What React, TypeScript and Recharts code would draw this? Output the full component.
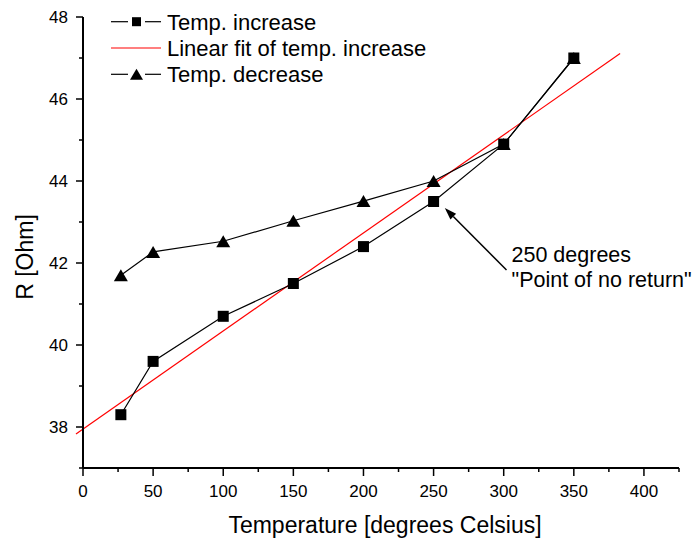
import React from 'react'
import {
  LineChart, Line, XAxis, YAxis, Legend, ReferenceLine, Label,
} from 'recharts'

// 测量数据 — 温度 (°C) 与电阻 (Ohm)
const temps = [27, 50, 100, 150, 200, 250, 300, 350]
const rIncrease = [38.3, 39.6, 40.7, 41.5, 42.4, 43.5, 44.9, 47.0]
const rDecrease = [41.7, 42.27, 42.53, 43.03, 43.51, 44.0, 44.9, 47.0]

// 线性拟合的两端
const fitStart = { x: -5, y: 37.83 }
const fitEnd = { x: 383, y: 47.11 }

// 注释箭头：箭头尖 → 文字端
const arrowHead = { x: 258, y: 43.34 }
const arrowTail = { x: 302, y: 41.83 }
const noteLines = ['250 degrees', '"Point of no return"']

const xTicks = [0, 25, 50, 75, 100, 125, 150, 175, 200, 225, 250, 275, 300, 325, 350, 375, 400, 425]
const yTicks = [37, 38, 39, 40, 41, 42, 43, 44, 45, 46, 47, 48]
const legendLabels = ['Temp. increase', 'Linear fit of temp. increase', 'Temp. decrease']

const FONT = 'Arial, "Liberation Sans", sans-serif'

const incData = temps.map((x, i) => ({ x, r: rIncrease[i] }))
const decData = temps.map((x, i) => ({ x, r: rDecrease[i] }))

function XTick(props: any) {
  const { x, y, payload } = props
  const major = payload.value % 50 === 0
  return (
    <g>
      <line x1={x} y1={y} x2={x} y2={y + (major ? 8 : 4)} stroke="#000" strokeWidth={1.5} />
      {major && (
        <text x={x} y={y + 29} textAnchor="middle" fontSize={17} fontFamily={FONT} fill="#000">
          {payload.value}
        </text>
      )}
    </g>
  )
}

function YTick(props: any) {
  const { x, y, payload } = props
  const major = payload.value % 2 === 0
  return (
    <g>
      <line x1={x - (major ? 7 : 4)} y1={y} x2={x} y2={y} stroke="#000" strokeWidth={1.5} />
      {major && (
        <text x={x - 15} y={y + 6} textAnchor="end" fontSize={17} fontFamily={FONT} fill="#000">
          {payload.value}
        </text>
      )}
    </g>
  )
}

function square(p: any, s = 11) {
  return <rect key={p.index} x={p.cx - s / 2} y={p.cy - s / 2} width={s} height={s} fill="#000" />
}

function triangle(p: any, w = 14, h = 12) {
  const { cx, cy } = p
  return (
    <polygon
      key={p.index}
      points={`${cx - w / 2},${cy + h / 2} ${cx + w / 2},${cy + h / 2} ${cx},${cy - h / 2}`}
      fill="#000"
    />
  )
}

function Arrow(props: any) {
  const { x1, y1, x2, y2 } = props
  // x1,y1 = 箭头尖
  const dx = x2 - x1
  const dy = y2 - y1
  const len = Math.hypot(dx, dy)
  const ux = dx / len
  const uy = dy / len
  const hl = 12
  const hw = 4
  const bx = x1 + ux * hl
  const by = y1 + uy * hl
  return (
    <g>
      <line x1={bx} y1={by} x2={x2} y2={y2} stroke="#000" strokeWidth={1.5} />
      <polygon
        points={`${x1},${y1} ${bx - uy * hw},${by + ux * hw} ${bx + uy * hw},${by - ux * hw}`}
        fill="#000"
      />
      <text x={x2 + 5} y={y2 - 8} fontSize={21.5} fontFamily={FONT} fill="#000">{noteLines[0]}</text>
      <text x={x2 + 5} y={y2 + 17} fontSize={21.5} fontFamily={FONT} fill="#000">{noteLines[1]}</text>
    </g>
  )
}

function LegendBox() {
  const rows = [21.7, 48, 74.3]
  return (
    <svg width={460} height={95} style={{ display: 'block' }}>
      {legendLabels.map((label, i) => {
        const cy = rows[i]
        return (
          <g key={label}>
            {i === 1 ? (
              <line x1={111} y1={cy} x2={161} y2={cy} stroke="#ff0000" strokeWidth={1.2} />
            ) : (
              <>
                <line x1={111} y1={cy} x2={128} y2={cy} stroke="#000" strokeWidth={1.2} />
                <line x1={145} y1={cy} x2={161} y2={cy} stroke="#000" strokeWidth={1.2} />
                {i === 0 ? square({ cx: 136.5, cy, index: 0 }, 9) : triangle({ cx: 136.5, cy, index: 0 }, 13, 11)}
              </>
            )}
            <text x={167} y={cy + 7.8} fontSize={22} fontFamily={FONT} fill="#000">{label}</text>
          </g>
        )
      })}
    </svg>
  )
}

export default function App() {
  return (
    <div style={{ position: 'absolute', left: 0, top: 0, fontFamily: FONT, background: '#fff' }}>
      <LineChart width={695} height={543} margin={{ top: 17, right: 16, left: 0, bottom: 0 }}>
        <XAxis
          type="number"
          dataKey="x"
          domain={[0, 425]}
          ticks={xTicks}
          interval={0}
          tickSize={0}
          tickMargin={0}
          tickLine={false}
          tick={<XTick />}
          axisLine={{ stroke: '#000', strokeWidth: 2 }}
          height={75}
        >
          <Label
            content={() => (
              <text x={385} y={533} textAnchor="middle" fontSize={23} fontFamily={FONT} fill="#000">
                Temperature [degrees Celsius]
              </text>
            )}
          />
        </XAxis>
        <YAxis
          type="number"
          domain={[37, 48]}
          ticks={yTicks}
          interval={0}
          tickSize={0}
          tickMargin={0}
          tickLine={false}
          tick={<YTick />}
          axisLine={{ stroke: '#000', strokeWidth: 2 }}
          width={83}
        >
          <Label
            content={() => (
              <text
                x={33}
                y={257}
                transform="rotate(-90, 33, 257)"
                textAnchor="middle"
                fontSize={23}
                fontFamily={FONT}
                fill="#000"
              >
                R [Ohm]
              </text>
            )}
          />
        </YAxis>
        <Legend
          layout="vertical"
          align="center"
          verticalAlign="middle"
          content={() => <LegendBox />}
          wrapperStyle={{ left: 0, top: 0, width: 460, height: 95 }}
        />
        <ReferenceLine
          segment={[fitStart, fitEnd]}
          stroke="#ff0000"
          strokeWidth={1.2}
          ifOverflow="visible"
        />
        <Line
          data={incData}
          dataKey="r"
          stroke="#000"
          strokeWidth={1.2}
          dot={(p: any) => square(p)}
          activeDot={false}
          isAnimationActive={false}
        />
        <Line
          data={decData}
          dataKey="r"
          stroke="#000"
          strokeWidth={1.2}
          dot={(p: any) => triangle(p)}
          activeDot={false}
          isAnimationActive={false}
        />
        <ReferenceLine
          segment={[arrowHead, arrowTail]}
          ifOverflow="visible"
          shape={(p: any) => <Arrow {...p} />}
        />
      </LineChart>
    </div>
  )
}
